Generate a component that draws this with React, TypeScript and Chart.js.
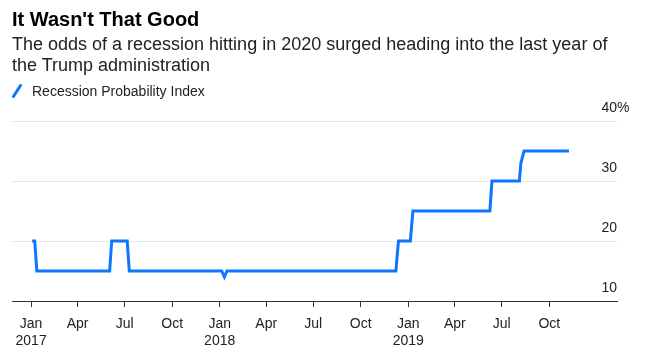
import React, { useEffect, useRef } from "react";
import { Chart, registerables } from "chart.js";

Chart.register(...registerables);

// Series: Recession Probability Index (%)
const pointDates = [
  "2017-01-03", "2017-01-08", "2017-01-12", "2017-06-02", "2017-06-06", "2017-07-06",
  "2017-07-10", "2018-01-05", "2018-01-10", "2018-01-15", "2018-12-08", "2018-12-13",
  "2019-01-05", "2019-01-10", "2019-06-08", "2019-06-12", "2019-08-04", "2019-08-07",
  "2019-08-13", "2019-11-08",
];
const pointValues = [20, 20, 15, 15, 20, 20, 15, 15, 14, 15, 15, 20, 20, 25, 25, 30, 30, 33, 35, 35];

const tickDates = [
  "2017-01-01", "2017-04-01", "2017-07-01", "2017-10-01",
  "2018-01-01", "2018-04-01", "2018-07-01", "2018-10-01",
  "2019-01-01", "2019-04-01", "2019-07-01", "2019-10-01",
];
const tickLabels: (string | string[])[] = [
  ["Jan", "2017"], "Apr", "Jul", "Oct",
  ["Jan", "2018"], "Apr", "Jul", "Oct",
  ["Jan", "2019"], "Apr", "Jul", "Oct",
];
const yTicks = [10, 20, 30, 40];
const xRange = ["2016-11-25", "2020-02-09"];
const yRange = [10, 40];

const FONT = '"Liberation Sans", Arial, Helvetica, sans-serif';
const LINE_COLOR = "#0f75ff";

const toDay = (s: string) =>
  (Date.parse(s + "T00:00:00Z") - Date.UTC(2017, 0, 1)) / 86400000;

const yLabelPlugin = {
  id: "yLabels",
  afterDraw(chart: any) {
    const { ctx, chartArea, scales } = chart;
    const y = scales.y;
    ctx.save();
    ctx.font = `14px ${FONT}`;
    ctx.fillStyle = "#222";
    ctx.textBaseline = "alphabetic";
    yTicks.forEach((v) => {
      const py = y.getPixelForValue(v);
      ctx.textAlign = "right";
      ctx.fillText(String(v), chartArea.right, py - 9);
      if (v === yTicks[yTicks.length - 1]) {
        ctx.textAlign = "left";
        ctx.fillText("%", chartArea.right, py - 9);
      }
    });
    ctx.restore();
  },
};

function LineChart() {
  const ref = useRef<HTMLCanvasElement | null>(null);
  useEffect(() => {
    if (!ref.current) return;
    const tickDays = tickDates.map(toDay);
    const chart = new Chart(ref.current, {
      type: "line",
      data: {
        datasets: [
          {
            label: "Recession Probability Index",
            data: pointDates.map((d, i) => ({ x: toDay(d), y: pointValues[i] })),
            borderColor: LINE_COLOR,
            borderWidth: 3,
            pointRadius: 0,
            tension: 0,
            fill: false,
            borderJoinStyle: "miter",
          },
        ],
      },
      options: {
        animation: false,
        responsive: false,
        maintainAspectRatio: false,
        layout: { padding: { left: 12, right: 29, top: 121, bottom: 0 } },
        plugins: { legend: { display: false }, tooltip: { enabled: false } },
        scales: {
          x: {
            type: "linear",
            min: toDay(xRange[0]),
            max: toDay(xRange[1]),
            afterBuildTicks: (s: any) => {
              s.ticks = tickDays.map((v) => ({ value: v }));
            },
            afterFit: (s: any) => {
              s.height = 53;
            },
            grid: {
              display: true,
              drawOnChartArea: false,
              drawTicks: true,
              tickLength: 6,
              color: "#333",
            },
            border: { display: true, color: "#333", width: 1 },
            ticks: {
              autoSkip: false,
              maxRotation: 0,
              padding: 9,
              color: "#222",
              font: { family: FONT, size: 14 },
              callback: (_v: any, i: number) => tickLabels[i],
            },
          },
          y: {
            type: "linear",
            position: "right",
            min: yRange[0],
            max: yRange[1],
            afterBuildTicks: (s: any) => {
              s.ticks = yTicks.map((v) => ({ value: v }));
            },
            afterFit: (s: any) => {
              s.width = 0;
            },
            grid: { color: "#e8e8e8", drawTicks: false, lineWidth: 1 },
            border: { display: false },
            ticks: { display: false },
          },
        },
      },
      plugins: [yLabelPlugin],
    } as any);
    return () => chart.destroy();
  }, []);
  return <canvas ref={ref} width={646} height={354} style={{ position: "absolute", left: 0, top: 0 }} />;
}

export default function App() {
  return (
    <div
      style={{
        position: "absolute",
        left: 0,
        top: 0,
        width: 646,
        height: 354,
        background: "#fff",
        fontFamily: FONT,
        overflow: "hidden",
      }}
    >
      <LineChart />
      <div
        style={{
          position: "absolute",
          left: 12,
          top: 7,
          fontSize: 20,
          lineHeight: "24px",
          fontWeight: 700,
          color: "#000",
          whiteSpace: "nowrap",
        }}
      >
        It Wasn't That Good
      </div>
      <div
        style={{
          position: "absolute",
          left: 12,
          top: 34,
          fontSize: 18,
          lineHeight: "21px",
          color: "#222",
          whiteSpace: "nowrap",
        }}
      >
        The odds of a recession hitting in 2020 surged heading into the last year of
        <br />
        the Trump administration
      </div>
      <div
        style={{
          position: "absolute",
          left: 12,
          top: 83,
          height: 16,
          display: "flex",
          alignItems: "center",
          fontSize: 14,
          lineHeight: "16px",
          color: "#222",
          whiteSpace: "nowrap",
        }}
      >
        <svg width={10} height={14} style={{ marginRight: 10 }}>
          <line x1={1.5} y1={12.5} x2={8.5} y2={1.5} stroke={LINE_COLOR} strokeWidth={3} strokeLinecap="round" />
        </svg>
        <span>Recession Probability Index</span>
      </div>
    </div>
  );
}
